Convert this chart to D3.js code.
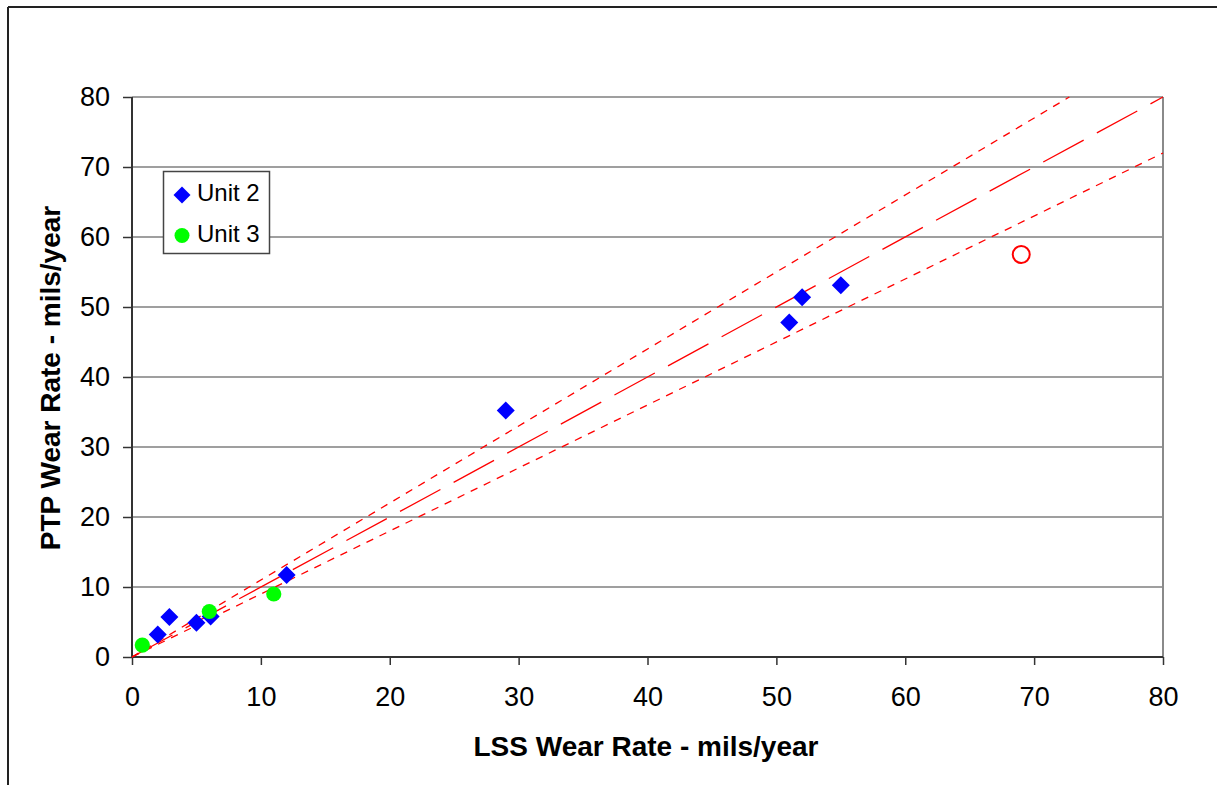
<!DOCTYPE html>
<html>
<head>
<meta charset="utf-8">
<script src="https://cdn.jsdelivr.net/npm/d3@7"></script>
<style>
  html, body { margin: 0; padding: 0; background: #fff; }
  svg { display: block; font-family: Arial, "Liberation Sans", sans-serif; }
</style>
</head>
<body>
<svg id="chart" width="1217" height="785"></svg>
<script>
// Wear rate comparison: LSS vs PTP (mils/year)
const unit2X = [2, 2.9, 5, 6.1, 12, 29, 51, 52, 55];
const unit2Y = [3.2, 5.7, 4.9, 5.8, 11.7, 35.2, 47.8, 51.4, 53.1];
const unit3X = [0.8, 6, 11];
const unit3Y = [1.7, 6.5, 9];
const outlierX = [69];
const outlierY = [57.5];

// Parity line and +/-10% bounds, as end points
const parityLine = [[0, 0], [80, 80]];
const upperLine = [[0, 0], [72.73, 80]];
const lowerLine = [[0, 0], [80, 72]];

const tickValues = [0, 10, 20, 30, 40, 50, 60, 70, 80];
const seriesNames = ["Unit 2", "Unit 3"];
const xTitle = "LSS Wear Rate - mils/year";
const yTitle = "PTP Wear Rate - mils/year";

const svg = d3.select("#chart");
const plot = { left: 132, right: 1163, top: 97, bottom: 657 };

const x = d3.scaleLinear().domain([0, 80]).range([plot.left, plot.right]);
const y = d3.scaleLinear().domain([0, 80]).range([plot.bottom, plot.top]);

// Outer frame (top and left edges)
svg.append("line").attr("x1", 8).attr("x2", 1217).attr("y1", 7).attr("y2", 7)
  .attr("stroke", "#222").attr("stroke-width", 2);
svg.append("line").attr("x1", 8).attr("x2", 8).attr("y1", 7).attr("y2", 785)
  .attr("stroke", "#222").attr("stroke-width", 2);

// Horizontal gridlines
svg.append("g")
  .selectAll("line")
  .data(tickValues.filter(d => d > 0))
  .join("line")
  .attr("x1", plot.left).attr("x2", plot.right)
  .attr("y1", d => y(d)).attr("y2", d => y(d))
  .attr("stroke", "#7f7f7f").attr("stroke-width", 1.6);

// Right border of plot area
svg.append("line")
  .attr("x1", plot.right).attr("x2", plot.right)
  .attr("y1", plot.top).attr("y2", plot.bottom)
  .attr("stroke", "#8a8a8a").attr("stroke-width", 2);

// Axes
const xAxis = d3.axisBottom(x).tickValues(tickValues).tickSize(8).tickPadding(22).tickFormat(d3.format("d"));
const yAxis = d3.axisLeft(y).tickValues(tickValues).tickSize(9).tickPadding(13).tickFormat(d3.format("d"));

const gx = svg.append("g").attr("transform", `translate(0,${plot.bottom})`).call(xAxis);
const gy = svg.append("g").attr("transform", `translate(${plot.left},0)`).call(yAxis);

[gx, gy].forEach(g => {
  g.select(".domain").attr("stroke", "#333").attr("stroke-width", 2);
  g.selectAll(".tick line").attr("stroke", "#333").attr("stroke-width", 1.5);
  g.selectAll(".tick text")
    .attr("fill", "#000")
    .style("font-size", "27px")
    .style("font-family", "Arial, 'Liberation Sans', sans-serif");
});
gx.select(".domain").attr("d", `M${plot.left},0H${plot.right}`);
gy.select(".domain").attr("d", `M0,${plot.bottom}V${plot.top}`);

// Reference lines
const line = d3.line().x(d => x(d[0])).y(d => y(d[1]));
svg.append("path").datum(parityLine).attr("d", line)
  .attr("fill", "none").attr("stroke", "#ff0000").attr("stroke-width", 1.3)
  .attr("stroke-dasharray", "46,15");
[upperLine, lowerLine].forEach(pts => {
  svg.append("path").datum(pts).attr("d", line)
    .attr("fill", "none").attr("stroke", "#ff0000").attr("stroke-width", 1.3)
    .attr("stroke-dasharray", "7.5,7");
});

// Markers
const diamond = d3.symbol().type(d3.symbolSquare).size(162);
svg.append("g")
  .selectAll("path")
  .data(unit2X.map((v, i) => [v, unit2Y[i]]))
  .join("path")
  .attr("d", diamond)
  .attr("transform", d => `translate(${x(d[0])},${y(d[1])}) rotate(45)`)
  .attr("fill", "#0000ff");

svg.append("g")
  .selectAll("circle")
  .data(unit3X.map((v, i) => [v, unit3Y[i]]))
  .join("circle")
  .attr("cx", d => x(d[0])).attr("cy", d => y(d[1])).attr("r", 7.6)
  .attr("fill", "#00ff00");

svg.append("g")
  .selectAll("circle")
  .data(outlierX.map((v, i) => [v, outlierY[i]]))
  .join("circle")
  .attr("cx", d => x(d[0])).attr("cy", d => y(d[1])).attr("r", 8.5)
  .attr("fill", "none").attr("stroke", "#ff0000").attr("stroke-width", 2);

// Legend
const legend = svg.append("g");
legend.append("rect")
  .attr("x", 163.5).attr("y", 171.5).attr("width", 106).attr("height", 82)
  .attr("fill", "#fff").attr("stroke", "#444").attr("stroke-width", 1.5);
legend.append("path")
  .attr("d", d3.symbol().type(d3.symbolSquare).size(144))
  .attr("transform", "translate(182,195) rotate(45)")
  .attr("fill", "#0000ff");
legend.append("circle").attr("cx", 182).attr("cy", 235.5).attr("r", 7.5).attr("fill", "#00ff00");
legend.selectAll("text")
  .data(seriesNames)
  .join("text")
  .attr("x", 197).attr("y", (d, i) => 201 + i * 41)
  .style("font-size", "24px")
  .attr("fill", "#000")
  .text(d => d);

// Axis titles
svg.append("text")
  .attr("x", 646).attr("y", 756)
  .attr("text-anchor", "middle")
  .style("font-size", "28px").style("font-weight", "bold")
  .text(xTitle);
svg.append("text")
  .attr("transform", "translate(60,378) rotate(-90)")
  .attr("text-anchor", "middle")
  .style("font-size", "28px").style("font-weight", "bold")
  .text(yTitle);
</script>
</body>
</html>
